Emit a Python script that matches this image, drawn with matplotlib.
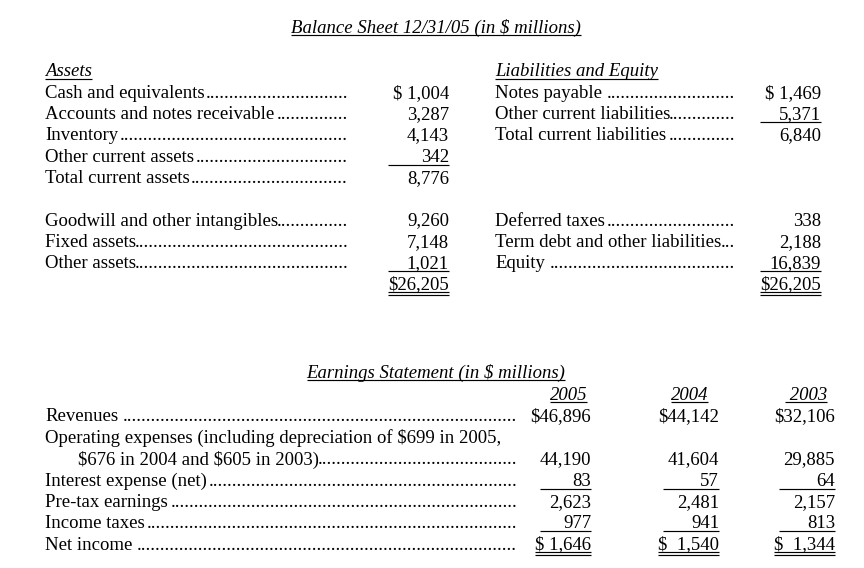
import matplotlib
matplotlib.use("Agg")
import matplotlib.pyplot as plt

# ---------------- data ----------------
bs_title = "Balance Sheet 12/31/05 (in $ millions)"
assets_header = "Assets"
assets_current_labels = ["Cash and equivalents", "Accounts and notes receivable ", "Inventory ",
                         "Other current assets ", "Total current assets"]
assets_current_values = [1004, 3287, 4143, 342, 8776]
assets_other_labels = ["Goodwill and other intangibles", "Fixed assets", "Other assets"]
assets_other_values = [9260, 7148, 1021]
assets_total = 26205

liab_header = "Liabilities and Equity"
liab_current_labels = ["Notes payable ", "Other current liabilities", "Total current liabilities "]
liab_current_values = [1469, 5371, 6840]
liab_other_labels = ["Deferred taxes", "Term debt and other liabilities", "Equity "]
liab_other_values = [338, 2188, 16839]
liab_total = 26205

es_title = "Earnings Statement (in $ millions)"
years = ["2005", "2004", " 2003"]
es_labels = ["Revenues ", "Operating expenses (including depreciation of $699 in 2005,",
             "Interest expense (net)", "Pre-tax earnings", "Income taxes", "Net income "]
es_label_cont = "$676 in 2004 and $605 in 2003)"
revenues = [46896, 44142, 32106]
operating_expenses = [44190, 41604, 29885]
interest_expense = [83, 57, 64]
pretax_earnings = [2623, 2481, 2157]
income_taxes = [977, 941, 813]
net_income = [1646, 1540, 1344]

# ---------------- layout ----------------
W, H = 864, 568
fig = plt.figure(figsize=(8.64, 5.68), dpi=100)
ax = fig.add_axes([0, 0, 1, 1])
ax.set_xlim(0, W)
ax.set_ylim(H, 0)
ax.axis("off")
FS = 13.5
FONT = ["Liberation Serif", "DejaVu Serif"]
LW = 0.85
renderer = fig.canvas.get_renderer()


def txt(x, y, s, ha="left", style="normal"):
    return ax.text(x, y, s, ha=ha, va="baseline", fontsize=FS, family=FONT,
                   style=style, color="black", parse_math=False)


def ext(t):
    bb = t.get_window_extent(renderer)
    return bb.x0, bb.x1


def hline(x0, x1, y):
    ax.plot([x0, x1], [y, y], color="black", lw=LW, solid_capstyle="butt")


def underline(t, y, dy=2.6):
    x0, x1 = ext(t)
    hline(x0, x1, y + dy)


def width_of(s):
    p = ax.text(0, 0, s, fontsize=FS, family=FONT, parse_math=False)
    w = p.get_window_extent(renderer).width
    p.remove()
    return w


DOT = (width_of("." * 41) - width_of("." * 1)) / 40.0
SPACE = width_of("a a") - width_of("aa")


def label_with_dots(x, y, label, dot_end):
    t = txt(x, y, label.rstrip())
    _, x1 = ext(t)
    start = x1 + (SPACE * 0.55 if label.endswith(" ") else 0.3)
    n = int(round((dot_end - start) / DOT))
    if n > 0:
        txt(dot_end, y, "." * n, ha="right")


def fmt(v, dollar=""):
    return dollar + f"{v:,}"


# Balance sheet title
t = txt(436, 33, bs_title, ha="center", style="italic")
underline(t, 33, 2.3)

LX, L_DOT, L_NUM, L_RULE0 = 45, 348, 449, 388
RX, R_DOT, R_NUM, R_RULE0 = 495, 735, 821, 760
ROW = 21.25
top_y = [98 + i * ROW for i in range(5)]
bot_y = [225.5 + i * ROW for i in range(4)]

# Assets
t = txt(LX, 76.5, assets_header, style="italic")
underline(t, 76.5, 2.3)
for i, (lab, v) in enumerate(zip(assets_current_labels, assets_current_values)):
    label_with_dots(LX, top_y[i], lab, L_DOT)
    txt(L_NUM, top_y[i], fmt(v, "$ " if i == 0 else ""), ha="right")
hline(L_RULE0, L_NUM, top_y[3] + 2.8)
for i, (lab, v) in enumerate(zip(assets_other_labels, assets_other_values)):
    label_with_dots(LX, bot_y[i], lab, L_DOT)
    txt(L_NUM, bot_y[i], fmt(v), ha="right")
hline(L_RULE0, L_NUM, bot_y[2] + 2.8)
t = txt(L_NUM, bot_y[3], fmt(assets_total, "$"), ha="right")
underline(t, bot_y[3], 2.6)
x0, x1 = ext(t)
hline(x0, x1, bot_y[3] + 5.6)

# Liabilities
t = txt(RX, 76.5, liab_header, style="italic")
underline(t, 76.5, 2.3)
for i, (lab, v) in enumerate(zip(liab_current_labels, liab_current_values)):
    label_with_dots(RX, top_y[i], lab, R_DOT)
    txt(R_NUM, top_y[i], fmt(v, "$ " if i == 0 else ""), ha="right")
hline(R_RULE0, R_NUM, top_y[1] + 2.8)
for i, (lab, v) in enumerate(zip(liab_other_labels, liab_other_values)):
    label_with_dots(RX, bot_y[i], lab, R_DOT)
    txt(R_NUM, bot_y[i], fmt(v), ha="right")
hline(R_RULE0, R_NUM, bot_y[2] + 2.8)
t = txt(R_NUM, bot_y[3], fmt(liab_total, "$"), ha="right")
underline(t, bot_y[3], 2.6)
x0, x1 = ext(t)
hline(x0, x1, bot_y[3] + 5.6)

# Earnings statement
t = txt(436, 378, es_title, ha="center", style="italic")
underline(t, 378, 2.3)
EX, E_DOT = 45, 517
col_r = [591, 719, 835]
col_rule0 = [540, 663, 779]
year_r = [587, 708, 827]
for yr, xr in zip(years, year_r):
    t = txt(xr, 400, yr, ha="right", style="italic")
    underline(t, 400, 2.3)

ey = {"rev": 421, "op1": 443, "op2": 464.5, "int": 486, "pre": 507, "tax": 528, "net": 549.5}
label_with_dots(EX, ey["rev"], es_labels[0], E_DOT)
txt(EX, ey["op1"], es_labels[1])
label_with_dots(78, ey["op2"], es_label_cont, E_DOT)
label_with_dots(EX, ey["int"], es_labels[2], E_DOT)
label_with_dots(EX, ey["pre"], es_labels[3], E_DOT)
label_with_dots(EX, ey["tax"], es_labels[4], E_DOT)
label_with_dots(EX, ey["net"], es_labels[5], E_DOT)

for j in range(3):
    xr = col_r[j]
    txt(xr, ey["rev"], fmt(revenues[j], "$"), ha="right")
    txt(xr, ey["op2"], fmt(operating_expenses[j]), ha="right")
    txt(xr, ey["int"], fmt(interest_expense[j]), ha="right")
    hline(col_rule0[j], xr, ey["int"] + 2.8)
    txt(xr, ey["pre"], fmt(pretax_earnings[j]), ha="right")
    txt(xr, ey["tax"], fmt(income_taxes[j]), ha="right")
    hline(col_rule0[j], xr, ey["tax"] + 2.8)
    t = txt(xr, ey["net"], fmt(net_income[j], "$ " if j == 0 else "$  "), ha="right")
    underline(t, ey["net"], 2.6)
    x0, x1 = ext(t)
    hline(x0, x1, ey["net"] + 5.6)

fig.savefig("out.png", dpi=100, facecolor="white")
